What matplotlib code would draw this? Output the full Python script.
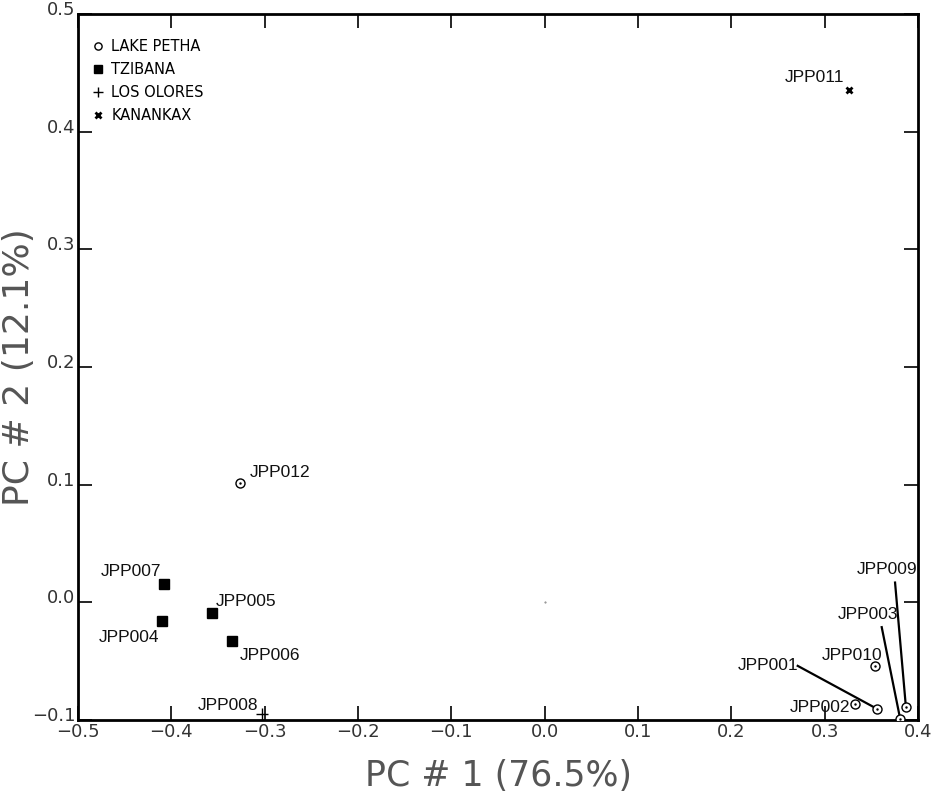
import matplotlib
matplotlib.use("Agg")
import matplotlib.pyplot as plt
import matplotlib.transforms as mtransforms

# sample scores on the first two principal components
lake_names = ["JPP012", "JPP002", "JPP001", "JPP010", "JPP009", "JPP003"]
lake_pc1 = [-0.326, 0.333, 0.356, 0.354, 0.387, 0.381]
lake_pc2 = [0.101, -0.086, -0.0905, -0.0545, -0.0888, -0.0995]

tzib_names = ["JPP007", "JPP004", "JPP005", "JPP006"]
tzib_pc1 = [-0.408, -0.410, -0.356, -0.335]
tzib_pc2 = [0.0155, -0.0155, -0.0087, -0.0327]

olores_names = ["JPP008"]
olores_pc1 = [-0.303]
olores_pc2 = [-0.095]

kanan_names = ["JPP011"]
kanan_pc1 = [0.326]
kanan_pc2 = [0.435]

# label anchor (left, baseline) in data coords
label_pos = {
    "JPP012": (-0.3165, 0.1066),
    "JPP002": (0.2629, -0.0936),
    "JPP001": (0.2068, -0.0579),
    "JPP010": (0.2968, -0.0494),
    "JPP009": (0.3343, 0.0242),
    "JPP003": (0.3136, -0.0140),
    "JPP007": (-0.4758, 0.0225),
    "JPP004": (-0.4775, -0.0333),
    "JPP005": (-0.3520, -0.0030),
    "JPP006": (-0.3264, -0.0494),
    "JPP008": (-0.3722, -0.0913),
    "JPP011": (0.2575, 0.4425),
}
# leader lines run from here to the point
leader_start = {
    "JPP001": (0.2711, -0.0540),
    "JPP009": (0.3754, 0.0168),
    "JPP003": (0.3611, -0.0211),
}

fig = plt.figure(figsize=(9.32, 7.94), dpi=100)
ax = fig.add_axes([0.0837, 0.0932, 0.9013, 0.8892])

ax.plot(lake_pc1, lake_pc2, 'o', ms=6.5, mfc='white', mec='black', mew=1.0, ls='none', label='LAKE PETHA', zorder=5)
ax.plot(lake_pc1, lake_pc2, '.', ms=1.5, color='black', ls='none', zorder=6)
ax.plot(tzib_pc1, tzib_pc2, 's', ms=7, color='black', ls='none', label='TZIBANA', zorder=5)
ax.plot(olores_pc1, olores_pc2, '+', ms=9, mew=1.0, color='black', ls='none', label='LOS OLORES', zorder=5)
ax.plot(kanan_pc1, kanan_pc2, 'x', ms=5, mew=2.0, color='black', ls='none', label='KANANKAX', zorder=5)
ax.plot([0], [0], '.', ms=1, color='gray')

all_pts = {}
for names, xs, ys in [(lake_names, lake_pc1, lake_pc2), (tzib_names, tzib_pc1, tzib_pc2),
                      (olores_names, olores_pc1, olores_pc2), (kanan_names, kanan_pc1, kanan_pc2)]:
    for n, x, y in zip(names, xs, ys):
        all_pts[n] = (x, y)

for n, (lx, ly) in label_pos.items():
    ax.text(lx, ly, n, fontsize=12.5, family='Liberation Sans',
            ha='left', va='baseline', color='#111111')
    if n in leader_start:
        sx, sy = leader_start[n]
        px, py = all_pts[n]
        ax.plot([sx, px], [sy, py], color='black', lw=1.6, zorder=4)

ax.set_xlim(-0.5, 0.4)
ax.set_ylim(-0.1, 0.5)
ax.set_xticks([-0.5, -0.4, -0.3, -0.2, -0.1, 0.0, 0.1, 0.2, 0.3, 0.4])
ax.set_yticks([-0.1, 0.0, 0.1, 0.2, 0.3, 0.4, 0.5])
fmt = matplotlib.ticker.FuncFormatter(lambda v, p: f"{v:.1f}".replace('-', '\u2212'))
ax.xaxis.set_major_formatter(fmt)
ax.yaxis.set_major_formatter(fmt)
ax.tick_params(direction='in', length=10, width=1.2, top=True, right=True,
               labelsize=13, labelcolor='#333333', pad=2)
for s in ax.spines.values():
    s.set_linewidth(2.0)

# y tick labels sit a little above their ticks in the original
up = mtransforms.ScaledTranslation(0, 6 / 100, fig.dpi_scale_trans)
for lab in ax.get_yticklabels():
    lab.set_transform(lab.get_transform() + up)

ax.set_xlabel("PC # 1 (76.5%)", fontsize=25, color='#555555', labelpad=13)
ax.set_ylabel("PC # 2 (12.1%)", fontsize=26, color='#555555')
ax.yaxis.set_label_coords(-0.05, 0.50)

ax.legend(loc='upper left', bbox_to_anchor=(-0.0036, 0.9915), frameon=False, fontsize=10.5,
          handlelength=0.6, handletextpad=0.6, labelspacing=0.55, borderaxespad=0.9, markerscale=0.8)

plt.savefig("out.png", dpi=100)
